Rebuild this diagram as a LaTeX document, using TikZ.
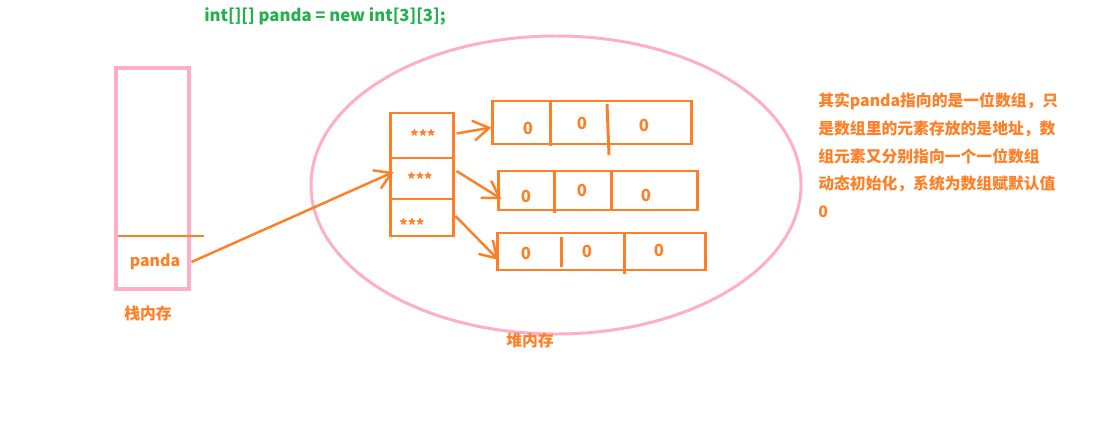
\documentclass[tikz,border=0pt]{standalone}
\usepackage{fontspec}
\setmainfont{Noto Sans CJK SC}
\usepackage{tikz}
\usetikzlibrary{arrows.meta,calc,positioning,shapes.geometric}
\definecolor{Paint}{HTML}{FF7F27}
\definecolor{Rose}{HTML}{FFAEC9}
\definecolor{Leaf}{HTML}{22B14C}
\tikzset{
  handarrow/.style={-{Straight Barb[length=3.2mm,width=4mm]},line width=1.4pt,draw=Paint},
  orangeline/.style={line width=1.4pt,draw=Paint},
  cellbox/.style={rectangle,draw=Paint,line width=1.7pt,inner sep=0pt},
  label/.style={text=Paint,font=\fontsize{9}{11}\selectfont\bfseries,inner sep=0pt},
  zero/.style={text=Paint,font=\fontsize{9.5}{11}\selectfont\bfseries,inner sep=0pt},
}

\begin{document}
\begin{tikzpicture}[x=0.02cm,y=-0.02cm]
    \useasboundingbox (0,0) rectangle (1111,426);

    \node[text=Leaf,font=\fontsize{9.5}{11}\selectfont\bfseries,inner sep=0pt] (decl) at (325,16) {int[][] panda = new int[3][3];};

    % stack
    \node[rectangle,draw=Rose,line width=2.3pt,minimum width=73*0.02cm,minimum height=221*0.02cm] (stack) at (152.5,178.5) {};
    \coordinate (divl) at (118,236);
    \coordinate (divr) at (204,236);
    \draw[orangeline] (divl) -- (divr);
    \node[label] (panda) at (155,262) {panda};
    \node[label] (stacklbl) at (148,313) {栈内存};

    % heap
    \node[ellipse,draw=Rose,line width=1.7pt,minimum width=490*0.02cm,minimum height=298*0.02cm] (heap) at (556,185) {};
    \node[label] (heaplbl) at (530,340) {堆内存};

    % pointer column
    \node[cellbox,minimum width=63*0.02cm,minimum height=45*0.02cm] (p1) at (421.5,135.5) {};
    \node[cellbox,minimum width=63*0.02cm,minimum height=41*0.02cm] (p2) at (421.5,178.5) {};
    \node[cellbox,minimum width=63*0.02cm,minimum height=37*0.02cm] (p3) at (421.5,217.5) {};
    \node[label] (s1) at (423,136) {***};
    \node[label] (s2) at (420,179) {***};
    \node[label] (s3) at (412,225) {***};

    % arrays
    \node[cellbox,minimum width=199*0.02cm,minimum height=43*0.02cm] (a1) at (591.5,122.5) {};
    \node[cellbox,minimum width=199*0.02cm,minimum height=39*0.02cm] (a2) at (597.5,190.5) {};
    \node[cellbox,minimum width=208*0.02cm,minimum height=37*0.02cm] (a3) at (601,251.5) {};
    \draw[orangeline,line width=1.7pt] (550,101) -- (550,146);
    \draw[orangeline,line width=1.7pt] (607,104) -- (609,155);
    \draw[orangeline,line width=1.7pt] (554,171) -- (554,213);
    \draw[orangeline,line width=1.7pt] (611,171) -- (611,210);
    \draw[orangeline,line width=1.7pt] (561,237) -- (561,267);
    \draw[orangeline,line width=1.7pt] (624,233) -- (624,274);
    \node[zero] (z11) at (528,128) {0};
    \node[zero] (z12) at (582,123) {0};
    \node[zero] (z13) at (644,125) {0};
    \node[zero] (z21) at (526,196) {0};
    \node[zero] (z22) at (582,190) {0};
    \node[zero] (z23) at (646,195) {0};
    \node[zero] (z31) at (526,253) {0};
    \node[zero] (z32) at (587,251) {0};
    \node[zero] (z33) at (659,250) {0};

    % pointers
    \draw[handarrow] ($(panda.east)+(11,0)$) -- ($(p2.west)+(5,-6.5)$);
    \draw[handarrow] ($(p1.east)+(2,-2)$) -- ($(a1.west)+(1,5)$);
    \draw[handarrow] ($(p2.east)+(2,-7.5)$) -- ($(a2.west)+(5,8.5)$);
    \draw[handarrow] ($(p3.east)+(1,-1.5)$) -- ($(a3.west)+(3,8.5)$);

    \node[label,anchor=north west,align=left,font=\fontsize{9}{15.9}\selectfont\bfseries] (note) at (818,92)
      {其实panda指向的是一位数组，只\\是数组里的元素存放的是地址，数\\组元素又分别指向一个一位数组\\动态初始化，系统为数组赋默认值\\0};
  \end{tikzpicture}
\end{document}
